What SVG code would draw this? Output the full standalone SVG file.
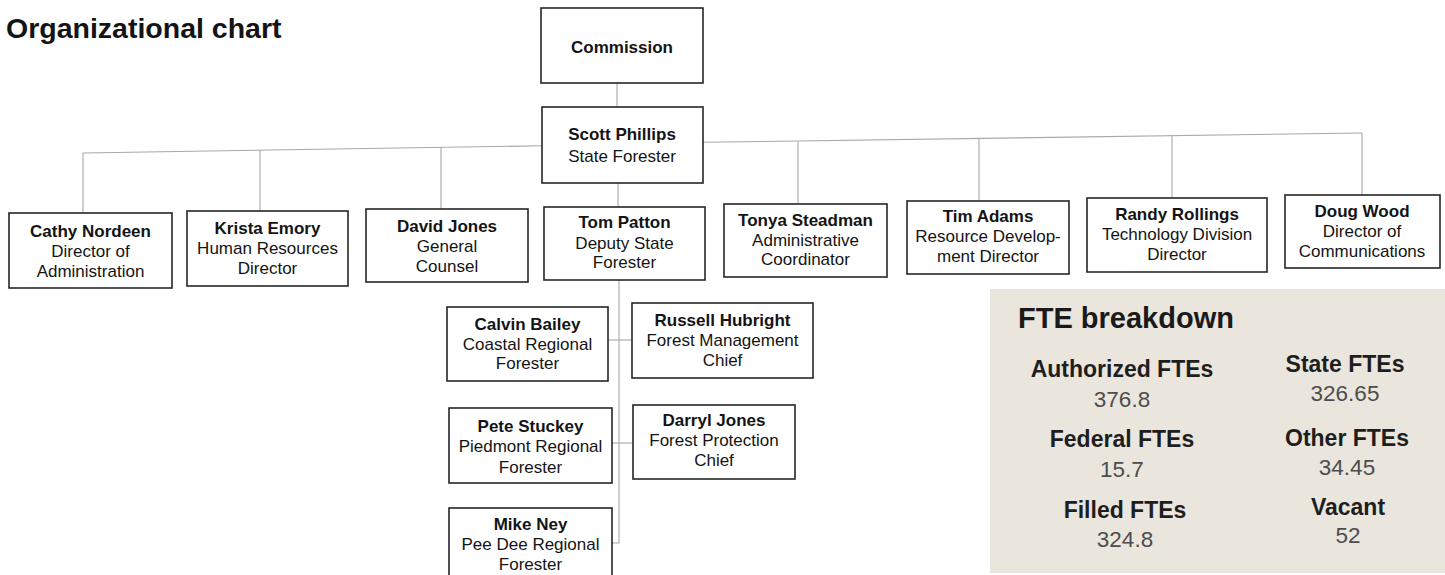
<svg xmlns="http://www.w3.org/2000/svg" width="1445" height="575" viewBox="0 0 1445 575">
<style>
  text { font-family: "Liberation Sans", Arial, sans-serif; fill: #141414; }
  .box { fill: #ffffff; stroke: #262626; stroke-width: 1.6; }
  .n { font-size: 17px; font-weight: bold; text-anchor: middle; }
  .t { font-size: 17px; text-anchor: middle; }
  .conn { fill: none; stroke: #a8a8a8; stroke-width: 1.1; }
  .fl { font-size: 23px; font-weight: bold; text-anchor: middle; fill: #1e1e1e; }
  .fv { font-size: 22.5px; text-anchor: middle; fill: #4d4d4d; }
</style>
<rect x="0" y="0" width="1445" height="575" fill="#ffffff"/>
<text x="6" y="37.5" style="font-size:28.5px;font-weight:bold">Organizational chart</text>

<g id="connectors" class="conn">
  <line x1="617" y1="83" x2="617" y2="107"/>
  <line x1="83" y1="153" x2="542" y2="145.8"/>
  <line x1="703" y1="142.3" x2="1362" y2="133"/>
  <line x1="83" y1="153" x2="83" y2="213"/>
  <line x1="260" y1="150.3" x2="260" y2="211"/>
  <line x1="441" y1="147.5" x2="441" y2="209"/>
  <line x1="798" y1="141.8" x2="798" y2="204"/>
  <line x1="979" y1="139" x2="979" y2="201"/>
  <line x1="1172" y1="136" x2="1172" y2="198"/>
  <line x1="1362" y1="133" x2="1362" y2="195"/>
  <line x1="618" y1="183" x2="618" y2="207"/>
  <polyline points="619,280 619,543 612,543"/>
  <line x1="608" y1="340" x2="632" y2="340"/>
  <line x1="612" y1="443" x2="633" y2="443"/>
</g>

<g id="commission">
  <rect class="box" x="541" y="8" width="162" height="75"/>
  <text class="n" x="622" y="53">Commission</text>
</g>
<g id="scott-phillips">
  <rect class="box" x="542" y="107" width="161" height="76"/>
  <text class="n" x="622" y="140">Scott Phillips</text>
  <text class="t" x="622" y="162">State Forester</text>
</g>
<g id="cathy-nordeen">
  <rect class="box" x="9" y="213" width="163" height="75"/>
  <text class="n" x="90.5" y="237">Cathy Nordeen</text>
  <text class="t" x="90.5" y="257">Director of</text>
  <text class="t" x="90.5" y="277">Administration</text>
</g>
<g id="krista-emory">
  <rect class="box" x="187" y="211" width="161" height="75"/>
  <text class="n" x="267.5" y="234">Krista Emory</text>
  <text class="t" x="267.5" y="254">Human Resources</text>
  <text class="t" x="267.5" y="274">Director</text>
</g>
<g id="david-jones">
  <rect class="box" x="366" y="209" width="162" height="73"/>
  <text class="n" x="447" y="232">David Jones</text>
  <text class="t" x="447" y="252">General</text>
  <text class="t" x="447" y="272">Counsel</text>
</g>
<g id="tom-patton">
  <rect class="box" x="544" y="207" width="161" height="73"/>
  <text class="n" x="624.5" y="228">Tom Patton</text>
  <text class="t" x="624.5" y="249">Deputy State</text>
  <text class="t" x="624.5" y="268">Forester</text>
</g>
<g id="tonya-steadman">
  <rect class="box" x="724" y="204" width="163" height="73"/>
  <text class="n" x="805.5" y="226">Tonya Steadman</text>
  <text class="t" x="805.5" y="246">Administrative</text>
  <text class="t" x="805.5" y="265">Coordinator</text>
</g>
<g id="tim-adams">
  <rect class="box" x="907" y="201" width="162" height="73"/>
  <text class="n" x="988" y="222">Tim Adams</text>
  <text class="t" x="988" y="242">Resource Develop-</text>
  <text class="t" x="988" y="262">ment Director</text>
</g>
<g id="randy-rollings">
  <rect class="box" x="1087" y="198" width="180" height="74"/>
  <text class="n" x="1177" y="220">Randy Rollings</text>
  <text class="t" x="1177" y="240">Technology Division</text>
  <text class="t" x="1177" y="260">Director</text>
</g>
<g id="doug-wood">
  <rect class="box" x="1285" y="195" width="155" height="73"/>
  <text class="n" x="1362" y="217">Doug Wood</text>
  <text class="t" x="1362" y="237">Director of</text>
  <text class="t" x="1362" y="257">Communications</text>
</g>
<g id="calvin-bailey">
  <rect class="box" x="447" y="307" width="161" height="74"/>
  <text class="n" x="527.5" y="330">Calvin Bailey</text>
  <text class="t" x="527.5" y="350">Coastal Regional</text>
  <text class="t" x="527.5" y="369">Forester</text>
</g>
<g id="russell-hubright">
  <rect class="box" x="632" y="303" width="181" height="75"/>
  <text class="n" x="722.5" y="326">Russell Hubright</text>
  <text class="t" x="722.5" y="346">Forest Management</text>
  <text class="t" x="722.5" y="366">Chief</text>
</g>
<g id="pete-stuckey">
  <rect class="box" x="449" y="408" width="163" height="75"/>
  <text class="n" x="530.5" y="432">Pete Stuckey</text>
  <text class="t" x="530.5" y="452">Piedmont Regional</text>
  <text class="t" x="530.5" y="473">Forester</text>
</g>
<g id="darryl-jones">
  <rect class="box" x="633" y="405" width="162" height="74"/>
  <text class="n" x="714" y="426">Darryl Jones</text>
  <text class="t" x="714" y="446">Forest Protection</text>
  <text class="t" x="714" y="466">Chief</text>
</g>
<g id="mike-ney">
  <rect class="box" x="449" y="508" width="163" height="72"/>
  <text class="n" x="530.5" y="530">Mike Ney</text>
  <text class="t" x="530.5" y="550">Pee Dee Regional</text>
  <text class="t" x="530.5" y="570">Forester</text>
</g>

<g id="fte-breakdown">
  <rect x="990" y="289" width="455" height="284" fill="#eae6de"/>
  <text x="1018" y="328" style="font-size:29px;font-weight:bold;fill:#1a1a1a">FTE breakdown</text>
  <text class="fl" x="1122" y="377">Authorized FTEs</text>
  <text class="fv" x="1122" y="407">376.8</text>
  <text class="fl" x="1345" y="372">State FTEs</text>
  <text class="fv" x="1345" y="401">326.65</text>
  <text class="fl" x="1122" y="447">Federal FTEs</text>
  <text class="fv" x="1122" y="477">15.7</text>
  <text class="fl" x="1347" y="446">Other FTEs</text>
  <text class="fv" x="1347" y="475">34.45</text>
  <text class="fl" x="1125" y="518">Filled FTEs</text>
  <text class="fv" x="1125" y="547">324.8</text>
  <text class="fl" x="1348" y="515">Vacant</text>
  <text class="fv" x="1348" y="543">52</text>
</g>
</svg>
